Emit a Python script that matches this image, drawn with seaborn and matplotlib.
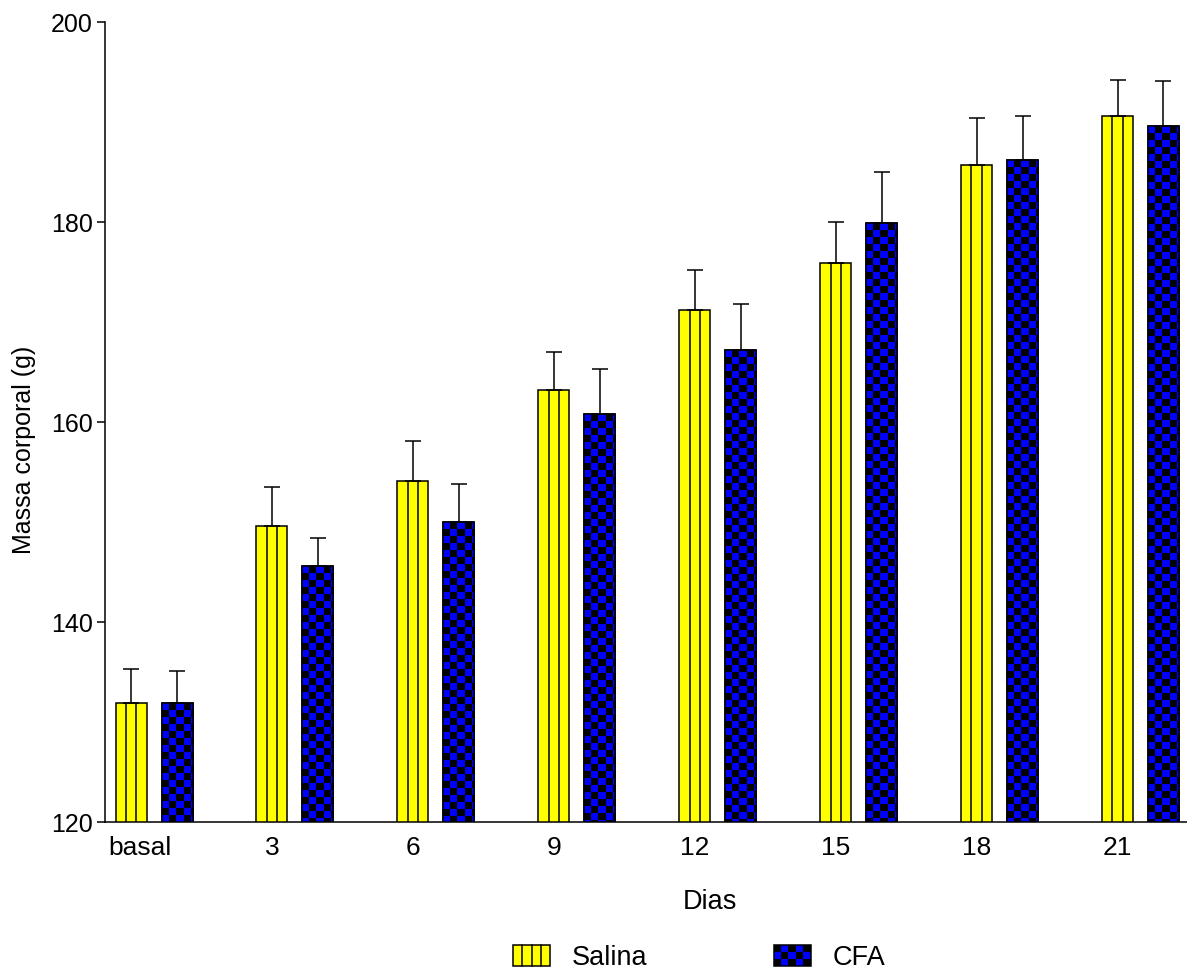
import numpy as np
import pandas as pd
import matplotlib
matplotlib.use("Agg")
import matplotlib.pyplot as plt
import matplotlib.transforms as mtransforms
import seaborn as sns
from matplotlib.patches import Rectangle
from matplotlib.lines import Line2D
from matplotlib.colors import ListedColormap
from matplotlib.legend_handler import HandlerBase

# Body mass (g) per day: mean and upper SEM
dias = ["basal", "3", "6", "9", "12", "15", "18", "21"]
grupos = ["Salina", "CFA"]
salina_media = [131.9, 149.6, 154.1, 163.2, 171.2, 175.9, 185.7, 190.6]
salina_epm = [3.4, 3.9, 4.0, 3.8, 4.0, 4.1, 4.7, 3.6]
cfa_media = [131.9, 145.6, 150.0, 160.8, 167.2, 179.9, 186.2, 189.6]
cfa_epm = [3.2, 2.8, 3.8, 4.5, 4.6, 5.1, 4.4, 4.5]

AMARELO = "#ffff00"
AZUL = "#0000ff"
LW = 1.1

sns.set_theme(style="ticks")
plt.rcParams["font.family"] = ["Liberation Sans", "DejaVu Sans"]
plt.rcParams["text.color"] = "black"

df = pd.DataFrame({
    "Dias": dias * 2,
    "Grupo": [grupos[0]] * len(dias) + [grupos[1]] * len(dias),
    "Massa": salina_media + cfa_media,
    "EPM": salina_epm + cfa_epm,
})

W, H = 1187, 974
fig = plt.figure(figsize=(W / 100, H / 100), dpi=100)
ax = fig.add_axes([105 / W, 1 - 822 / H, 1 - 105 / W, 800 / H])

sns.barplot(data=df, x="Dias", y="Massa", hue="Grupo", order=dias,
            hue_order=grupos, palette={"Salina": AMARELO, "CFA": AZUL},
            width=0.652, gap=0.325, errorbar=None, edgecolor="black",
            linewidth=LW, legend=False, saturation=1, ax=ax)

ax.set_ylim(120, 200)
ax.set_xlim(-0.348, 7.33)
ax.set_yticks([120, 140, 160, 180, 200])

# Sort bars by group (facecolour) and position
barras = {"Salina": [], "CFA": []}
for p in ax.patches:
    fc = p.get_facecolor()
    chave = "Salina" if fc[2] < 0.5 else "CFA"
    barras[chave].append(p)
for k in barras:
    barras[k].sort(key=lambda p: p.get_x())

fig.canvas.draw()
px_x = ax.bbox.width / (ax.get_xlim()[1] - ax.get_xlim()[0])
px_y = ax.bbox.height / (ax.get_ylim()[1] - ax.get_ylim()[0])
cel = 7.0
cx, cy = cel / px_x, cel / px_y
y_base = ax.get_ylim()[0]

# Vertical stripes on the saline bars
for p in barras["Salina"]:
    x0, w, h = p.get_x(), p.get_width(), p.get_height()
    ax.vlines([x0 + w / 3, x0 + 2 * w / 3], y_base, h, colors="black",
              linewidth=LW, zorder=p.get_zorder() + 0.1)

# Checkerboard on the CFA bars
cmap_xadrez = ListedColormap(["black", AZUL])
for p in barras["CFA"]:
    x0, w, h = p.get_x(), p.get_width(), p.get_height()
    ncol = int(np.ceil(w / cx))
    nlin = int(np.ceil((h - y_base) / cy)) + 1
    ii, jj = np.meshgrid(np.arange(ncol), np.arange(nlin))
    grade = ((ii + jj) % 2 == 0).astype(float)
    im = ax.imshow(grade, cmap=cmap_xadrez, vmin=0, vmax=1,
                   interpolation="nearest", aspect="auto", origin="upper",
                   extent=(x0, x0 + ncol * cx, h - nlin * cy, h),
                   zorder=p.get_zorder() + 0.05)
    im.set_clip_path(Rectangle((x0, y_base), w, h - y_base,
                               transform=ax.transData))
    ax.add_patch(Rectangle((x0, p.get_y()), w, h, fill=False,
                           edgecolor="black", linewidth=LW,
                           zorder=p.get_zorder() + 0.1))

ax.set_ylim(120, 200)
ax.set_xlim(-0.348, 7.33)

# Upper error bars
for g, epm in zip(grupos, [salina_epm, cfa_epm]):
    xs = [p.get_x() + p.get_width() / 2 for p in barras[g]]
    ys = [p.get_height() for p in barras[g]]
    ax.errorbar(xs, ys, yerr=[np.zeros(len(epm)), epm], fmt="none",
                ecolor="black", elinewidth=LW, capsize=6.1, capthick=LW,
                zorder=1.5)

# Tick labels under the saline bars
ax.set_xticks([p.get_x() + p.get_width() / 2 for p in barras["Salina"]])
ax.set_xticklabels(dias)

sns.despine(ax=ax)
for s in ("left", "bottom"):
    ax.spines[s].set_linewidth(LW)
    ax.spines[s].set_color("black")
ax.tick_params(axis="x", length=0, pad=10, labelsize=19, colors="black")
ax.tick_params(axis="y", length=5.8, width=LW, pad=3, labelsize=18,
               colors="black", direction="out")

# first label nudged right so it stays clear of the y axis
primeiro = ax.get_xticklabels()[0]
primeiro.set_transform(primeiro.get_transform() +
                       mtransforms.ScaledTranslation(9 / 100, 0,
                                                     fig.dpi_scale_trans))

ax.set_xlabel("Dias", fontsize=19.5, color="black")
ax.set_ylabel("Massa corporal (g)", fontsize=18, color="black")
ax.xaxis.set_label_coords(0.559, -0.084)
ax.yaxis.set_label_coords(-0.064, 0.465)


class BarraHandler(HandlerBase):
    def __init__(self, estilo):
        super().__init__()
        self.estilo = estilo

    def create_artists(self, legend, orig_handle, xdescent, ydescent,
                       width, height, fontsize, trans):
        x0, y0 = -xdescent, -ydescent
        arts = []
        if self.estilo == "listras":
            arts.append(Rectangle((x0, y0), width, height, facecolor=AMARELO,
                                  edgecolor="black", linewidth=LW,
                                  transform=trans))
            for k in (1, 2, 3):
                xx = x0 + width * k / 4
                arts.append(Line2D([xx, xx], [y0, y0 + height], color="black",
                                   linewidth=LW, transform=trans))
        else:
            nc, nl = 5, 3
            for i in range(nc):
                for j in range(nl):
                    cor = AZUL if (i + j) % 2 == 1 else "black"
                    arts.append(Rectangle((x0 + i * width / nc,
                                           y0 + j * height / nl),
                                          width / nc, height / nl,
                                          facecolor=cor, edgecolor="none",
                                          transform=trans))
            arts.append(Rectangle((x0, y0), width, height, fill=False,
                                  edgecolor="black", linewidth=LW,
                                  transform=trans))
        return arts


h_sal = Rectangle((0, 0), 1, 1)
h_cfa = Rectangle((0, 0), 1, 1)
fig.legend([h_sal, h_cfa], grupos, loc="center left",
           bbox_to_anchor=(513 / W, 1 - 958 / H), ncol=2, frameon=False,
           fontsize=19.5, handlelength=1.37, handleheight=0.81,
           handletextpad=0.81, columnspacing=4.65, borderpad=0,
           borderaxespad=0, labelcolor="black",
           handler_map={h_sal: BarraHandler("listras"),
                        h_cfa: BarraHandler("xadrez")})

fig.savefig("out.png", dpi=100)
